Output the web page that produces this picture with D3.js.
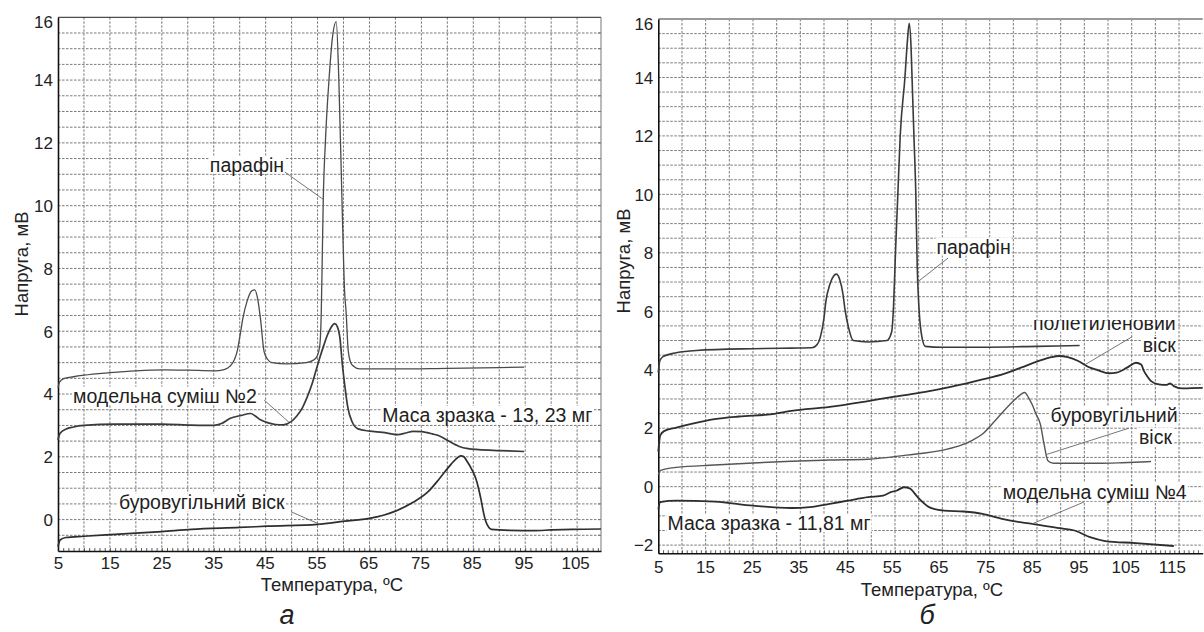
<!DOCTYPE html>
<html><head><meta charset="utf-8">
<script src="https://cdn.jsdelivr.net/npm/d3@7"></script>
<style>
body{margin:0;background:#fff}
svg{display:block}
text{font-family:"Liberation Sans",Arial,sans-serif;fill:#222}
</style>
</head><body>
<svg id="c" width="1204" height="632"></svg>
<script>
// ---------- tick labels ----------
const xTicksA = [5,15,25,35,45,55,65,75,85,95,105];
const yTicksA = [0,2,4,6,8,10,12,14,16];
const xTicksB = [5,15,25,35,45,55,65,75,85,95,105,115];
const yTicksB = [-2,0,2,4,6,8,10,12,14,16];

// ---------- panel а : [temperature °C, voltage mV] ----------
const paraffinA = [[5,4.2],[5.3,4.38],[6,4.48],[8,4.55],[10,4.6],[15,4.68],[20,4.74],[25.5,4.77],[30,4.76],[35.1,4.74],[37,4.78],[38.1,4.88],[39,5.1],[39.5,5.35],[40.1,5.9],[40.6,6.4],[41.5,7.0],[42.3,7.28],[42.9,7.32],[43.5,7.0],[44.0,6.4],[44.7,5.35],[45.4,5.1],[46.2,5.0],[49.1,4.96],[52.8,5.0],[54.2,5.08],[54.9,5.2],[55.4,5.5],[55.7,6.5],[55.9,8.3],[56.1,10.2],[56.5,12],[57.2,14],[57.9,15.4],[58.6,15.86],[59.1,14.0],[59.7,10.2],[60.2,7.3],[60.5,6.6],[60.9,5.4],[61.4,5.0],[62,4.88],[63.1,4.8],[70,4.8],[80,4.82],[90,4.84],[94.8,4.86]];
const mixture2A = [[5,2.54],[5.4,2.75],[6.5,2.88],[8,2.95],[10,3.0],[16,3.04],[25,3.04],[30.7,3.01],[35,3.0],[36.5,3.06],[38.1,3.22],[40.3,3.32],[42.1,3.38],[43,3.3],[44,3.18],[45.5,3.08],[46.9,3.03],[48.4,3.02],[49.9,3.12],[51,3.3],[52.1,3.57],[53,3.9],[53.9,4.3],[54.7,4.75],[55.4,5.14],[56.2,5.55],[56.9,5.88],[57.6,6.12],[58.3,6.24],[58.8,6.15],[59.3,5.8],[59.8,4.9],[60.3,4.2],[60.8,3.6],[61.7,3.1],[62.8,2.89],[65,2.82],[67.5,2.78],[70.5,2.71],[72,2.76],[73.4,2.81],[75,2.8],[77.1,2.73],[78.7,2.65],[80.1,2.52],[82.3,2.33],[84,2.26],[86,2.23],[90,2.2],[94.8,2.17]];
const brownCoalA = [[5,-0.86],[5.4,-0.65],[6.5,-0.57],[10,-0.53],[16,-0.47],[25,-0.38],[30.7,-0.31],[40,-0.25],[45.3,-0.21],[55,-0.15],[60.2,-0.05],[65,0.04],[67.5,0.13],[70,0.27],[73.4,0.55],[76.3,0.89],[78.5,1.31],[80.7,1.76],[82.0,1.98],[82.6,2.03],[83.2,2.0],[83.7,1.88],[84.7,1.6],[85.5,1.3],[86.0,1.0],[86.5,0.63],[87.0,0.2],[87.4,-0.05],[88,-0.25],[88.5,-0.31],[92,-0.34],[96.7,-0.35],[100,-0.33],[104,-0.31],[109.6,-0.3]];

// ---------- panel б ----------
const paraffinB = [[5,3.9],[5.3,4.3],[6,4.45],[8.8,4.58],[13,4.66],[25,4.72],[33,4.74],[37.4,4.75],[38.5,4.85],[39.2,5.1],[40,5.77],[40.4,6.34],[41.2,6.9],[42.0,7.2],[42.6,7.27],[43.3,7.1],[44.0,6.6],[44.4,6.1],[45.2,5.43],[46.2,5.0],[49.3,4.95],[53.3,5.0],[54.3,5.3],[54.7,6.2],[55.1,8.0],[55.6,10],[56.1,12],[57.1,14],[57.6,15.2],[58.0,15.85],[58.4,15.0],[58.6,14],[59.0,12],[59.4,10],[59.7,7.5],[60.0,6.3],[60.6,5.2],[61.4,4.8],[65,4.77],[73.5,4.77],[85,4.8],[94,4.83]];
const polyethyleneB = [[5,1.2],[5.4,1.75],[6.2,1.9],[8.8,2.02],[12,2.15],[16.9,2.31],[22,2.4],[29.1,2.48],[33.1,2.59],[41.2,2.73],[49.3,2.93],[54.9,3.08],[61.4,3.24],[67,3.42],[73.5,3.67],[78,3.86],[81.6,4.07],[85.7,4.32],[88,4.43],[89.7,4.47],[91.5,4.43],[93.7,4.3],[96.2,4.07],[97.8,3.99],[100.2,3.88],[101.8,3.9],[104.2,4.09],[105.9,4.24],[107,4.18],[107.6,3.95],[108.4,3.75],[109.1,3.61],[110.7,3.5],[112.3,3.48],[113.1,3.53],[113.9,3.44],[115.6,3.36],[117.5,3.37],[120,3.38]];
const brownCoalB = [[5,0.4],[5.4,0.55],[8.8,0.66],[16.9,0.74],[25,0.81],[33.1,0.87],[41.2,0.91],[49.3,0.94],[57.4,1.08],[65.4,1.26],[69,1.42],[71.1,1.57],[73.5,1.8],[76.7,2.36],[80,2.93],[81.6,3.16],[82.4,3.22],[83.2,3.05],[84.0,2.8],[84.8,2.48],[85.7,2.14],[86.5,1.45],[87.3,0.89],[88.5,0.8],[97.8,0.8],[103,0.82],[109.1,0.86]];
const mixture4B = [[5,-0.78],[5.4,-0.53],[8.8,-0.48],[16.9,-0.51],[25,-0.65],[33.1,-0.73],[37,-0.7],[41.2,-0.59],[45,-0.48],[49.3,-0.36],[52.5,-0.31],[54.1,-0.19],[55.3,-0.14],[56.9,-0.02],[58.1,-0.06],[59.8,-0.36],[61,-0.55],[62.2,-0.70],[65.4,-0.82],[69.5,-0.85],[73.5,-0.93],[77.6,-1.10],[80,-1.18],[84,-1.27],[89.7,-1.42],[92.9,-1.5],[96.2,-1.73],[99.4,-1.86],[105.9,-1.93],[113.9,-2.03]];

const svg = d3.select("#c");
const FONT = '"Liberation Sans",Arial,sans-serif';

function drawPanel(p) {
  const x = d3.scaleLinear().domain(p.xDomain).range([p.x0, p.x1]);
  const y = d3.scaleLinear().domain(p.yDomain).range([p.y1, p.y0]);
  const g = svg.append("g");

  // grid
  const hVals = d3.range(Math.ceil(p.yDomain[0]*2)/2, p.yDomain[1], 0.5).filter(v => v > p.yDomain[0] + 0.05);
  const vVals = d3.range(10, p.xDomain[1] - 0.5, 5);
  g.append("g").selectAll("line").data(hVals).join("line")
    .attr("x1", p.x0).attr("x2", p.x1).attr("y1", d => y(d)).attr("y2", d => y(d))
    .attr("stroke", "#7a7a7a").attr("stroke-width", 1).attr("stroke-dasharray", "2.5,1.5");
  g.append("g").selectAll("line").data(vVals).join("line")
    .attr("x1", d => x(d)).attr("x2", d => x(d)).attr("y1", p.y0).attr("y2", p.y1)
    .attr("stroke", "#7a7a7a").attr("stroke-width", 1).attr("stroke-dasharray", "2.5,1.5");

  // borders
  g.append("line").attr("x1", p.x0).attr("x2", p.x1).attr("y1", p.y0).attr("y2", p.y0)
    .attr("stroke", p.topColor).attr("stroke-width", p.topWidth);
  if (p.rightBorder) {
    g.append("line").attr("x1", p.x1).attr("x2", p.x1).attr("y1", p.y0).attr("y2", p.y1)
      .attr("stroke", "#777").attr("stroke-width", 1);
    g.append("g").selectAll("line").data(hVals).join("line")
      .attr("x1", p.x1 - 3).attr("x2", p.x1).attr("y1", d => y(d)).attr("y2", d => y(d))
      .attr("stroke", "#777").attr("stroke-width", 1);
  }

  // minor x ticks
  const minor = d3.axisBottom(x).tickValues(d3.range(p.xDomain[0], p.xDomain[1], 1)).tickSize(-3).tickFormat("");
  const gm = g.append("g").attr("transform", `translate(0,${p.y1})`).call(minor);
  gm.select(".domain").remove();
  gm.selectAll("line").attr("stroke", "#333").attr("stroke-width", 0.8);

  // x axis
  const xa = d3.axisBottom(x).tickValues(p.xTicks).tickSize(0).tickPadding(p.xPad);
  const gx = g.append("g").attr("transform", `translate(0,${p.y1})`).call(xa);
  gx.select(".domain").attr("stroke", "#111").attr("stroke-width", 1.6);
  gx.selectAll("text").attr("font-family", FONT).attr("font-size", 17).attr("fill", "#222")
    .attr("dx", d => p.xLabelShift * (d - p.xDomain[0]));

  // y axis
  const ya = d3.axisLeft(y).tickValues(p.yTicks).tickSize(0).tickPadding(5);
  const gy = g.append("g").attr("transform", `translate(${p.x0},0)`).call(ya);
  gy.select(".domain").attr("stroke", "#111").attr("stroke-width", 1.6);
  gy.selectAll("text").attr("font-family", FONT).attr("font-size", 17).attr("fill", "#222")
    .attr("dy", d => d === 16 ? "0.62em" : "0.34em");

  // titles
  g.append("text").attr("transform", `translate(${p.yTitleX},${p.yTitleY}) rotate(-90)`)
    .attr("text-anchor", "middle").attr("dy", "0.35em").attr("font-size", 18.5).text("Напруга, мВ");
  g.append("text").attr("x", p.xTitleX).attr("y", p.xTitleY)
    .attr("text-anchor", "middle").attr("dy", "0.35em").attr("font-size", 18.5).text("Температура, ºС");
  g.append("text").attr("x", p.letterX).attr("y", 624)
    .attr("text-anchor", "middle").attr("font-family", '"Liberation Serif","Times New Roman",serif')
    .attr("font-style", "italic").attr("font-size", 27).attr("fill", "#111").text(p.letter);

  // curves
  const line = d3.line().x(d => x(d[0])).y(d => y(d[1])).curve(d3.curveMonotoneX);
  const curvesG = g.append("g");
  p.series.forEach(s => {
    curvesG.append("path").attr("d", line(s.data)).attr("fill", "none")
      .attr("stroke", s.color).attr("stroke-width", s.width).attr("stroke-linejoin", "round");
  });

  // annotations
  const annG = g.append("g");
  p.labels.forEach(l => {
    const t = annG.append("text").attr("x", x(l.at[0])).attr("y", y(l.at[1]))
      .attr("dy", "0.35em").attr("text-anchor", l.anchor || "middle")
      .attr("font-size", 19.5).text(l.text);
    if (l.clipTop) {
      const id = "clip" + Math.random().toString(36).slice(2);
      svg.append("clipPath").attr("id", id).append("rect")
        .attr("x", 0).attr("y", y(l.clipTop)).attr("width", 1204).attr("height", 632);
      t.attr("clip-path", `url(#${id})`);
    }
    const b = t.node().getBBox();
    annG.insert("rect", () => t.node())
      .attr("x", b.x - 1).attr("y", b.y + 2).attr("width", b.width + 2).attr("height", b.height - 4)
      .attr("fill", "#fff").attr("clip-path", t.attr("clip-path"));
  });
  p.leaders.forEach(ld => {
    annG.append("line").attr("x1", x(ld[0][0])).attr("y1", y(ld[0][1]))
      .attr("x2", x(ld[1][0])).attr("y2", y(ld[1][1]))
      .attr("stroke", "#666").attr("stroke-width", 0.9);
  });
}

drawPanel({
  xDomain: [5, 109.6], yDomain: [-1, 16], x0: 58, x1: 601, y0: 17.3, y1: 551,
  xTicks: xTicksA, yTicks: yTicksA, xPad: 6, xLabelShift: -0.02,
  topColor: "#222", topWidth: 1, rightBorder: true,
  yTitleX: 22, yTitleY: 264, xTitleX: 332, xTitleY: 585, letterX: 287, letter: "а",
  series: [
    {data: paraffinA, color: "#4a4a4a", width: 1.3},
    {data: mixture2A, color: "#3a3a3a", width: 1.7},
    {data: brownCoalA, color: "#2e2e2e", width: 1.7}
  ],
  labels: [
    {text: "парафін", at: [41.4, 11.3]},
    {text: "модельна суміш №2", at: [25.6, 3.94]},
    {text: "Маса зразка - 13, 23 мг", at: [87.7, 3.33]},
    {text: "буровугільний віск", at: [32.7, 0.54]}
  ],
  leaders: [
    [[48.7, 11.07], [56.1, 10.2]],
    [[44.7, 3.81], [49.5, 3.1]],
    [[49.9, 0.25], [55.4, -0.15]]
  ]
});

drawPanel({
  xDomain: [5, 120], yDomain: [-2.28, 16], x0: 658.3, x1: 1202.7, y0: 19, y1: 553.3,
  xTicks: xTicksB, yTicks: yTicksB, xPad: 8, xLabelShift: -0.065,
  topColor: "#9a9a9a", topWidth: 2, rightBorder: false,
  yTitleX: 624, yTitleY: 261, xTitleX: 932, xTitleY: 590, letterX: 927, letter: "б",
  series: [
    {data: paraffinB, color: "#3a3a3a", width: 1.6},
    {data: polyethyleneB, color: "#2e2e2e", width: 1.8},
    {data: brownCoalB, color: "#555", width: 1.4},
    {data: mixture4B, color: "#2e2e2e", width: 1.8}
  ],
  labels: [
    {text: "парафін", at: [71.6, 8.21]},
    {text: "поліетиленовий", at: [114.3, 5.6], anchor: "end", clipTop: 5.7},
    {text: "віск", at: [114.3, 4.84], anchor: "end"},
    {text: "буровугільний", at: [114.7, 2.44], anchor: "end"},
    {text: "віск", at: [113.5, 1.70], anchor: "end"},
    {text: "модельна суміш №4", at: [97.2, -0.18]},
    {text: "Маса зразка - 11,81 мг", at: [28.4, -1.25]}
  ],
  leaders: [
    [[66.2, 7.82], [59.75, 7.0]],
    [[105.1, 5.13], [95, 4.16]],
    [[104.4, 2.0], [87.0, 1.1]],
    [[95, -0.52], [84, -1.27]]
  ]
});
</script>
</body></html>
